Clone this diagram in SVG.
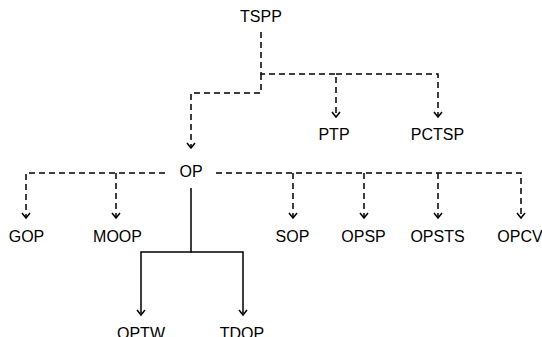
<svg xmlns="http://www.w3.org/2000/svg" width="542" height="337" viewBox="0 0 542 337">
  <style>
    .lbl { font-family: "Liberation Sans", Arial, sans-serif; font-size: 16px; fill: #000; text-anchor: middle; }
    .dash { fill: none; stroke: #000; stroke-width: 1.5; stroke-dasharray: 6 4; marker-end: url(#arr); }
    .dash-plain { fill: none; stroke: #000; stroke-width: 1.5; stroke-dasharray: 6 4; }
    .solid { fill: none; stroke: #000; stroke-width: 1.5; marker-end: url(#arr); }
    .solid-plain { fill: none; stroke: #000; stroke-width: 1.5; }
  </style>
  <defs>
    <marker id="arr" markerUnits="userSpaceOnUse" markerWidth="12" markerHeight="12" viewBox="-7 -6 9 12" refX="0" refY="0" orient="auto" overflow="visible">
      <path d="M-5,-4 L0,0 L-5,4" fill="none" stroke="#000" stroke-width="1.5" stroke-dasharray="none"/>
    </marker>
  </defs>
  <rect width="542" height="337" fill="#fff"/>

  <g id="connectors">
    <!-- TSPP branches -->
    <path class="dash" d="M261,32 V74 H336 V117"/>
    <path class="dash" d="M336,74 H438 V117"/>
    <path class="dash" d="M261,74 V93 H191 V148"/>
    <!-- OP dashed branches, left -->
    <path class="dash" d="M165,173 H26 V218"/>
    <path class="dash" d="M116,173 V218"/>
    <!-- OP dashed branches, right -->
    <path class="dash" d="M216,173 H521 V218"/>
    <path class="dash" d="M293,173 V218"/>
    <path class="dash" d="M364,173 V218"/>
    <path class="dash" d="M438,173 V218"/>
    <!-- OP solid branches -->
    <path class="solid" d="M191,188 V252 H141 V315"/>
    <path class="solid" d="M191,252 H243 V315"/>
  </g>

  <g id="TSPP"><text class="lbl" x="261" y="22">TSPP</text></g>
  <g id="PTP"><text class="lbl" x="334" y="140">PTP</text></g>
  <g id="PCTSP"><text class="lbl" x="437.5" y="140">PCTSP</text></g>
  <g id="OP"><text class="lbl" x="191" y="177">OP</text></g>
  <g id="GOP"><text class="lbl" x="26.5" y="242">GOP</text></g>
  <g id="MOOP"><text class="lbl" x="117.5" y="242">MOOP</text></g>
  <g id="SOP"><text class="lbl" x="292.5" y="242">SOP</text></g>
  <g id="OPSP"><text class="lbl" x="363.5" y="242">OPSP</text></g>
  <g id="OPSTS"><text class="lbl" x="437.5" y="242">OPSTS</text></g>
  <g id="OPCV"><text class="lbl" x="520" y="242">OPCV</text></g>
  <g id="OPTW"><text class="lbl" x="141" y="339">OPTW</text></g>
  <g id="TDOP"><text class="lbl" x="242" y="339">TDOP</text></g>
</svg>
